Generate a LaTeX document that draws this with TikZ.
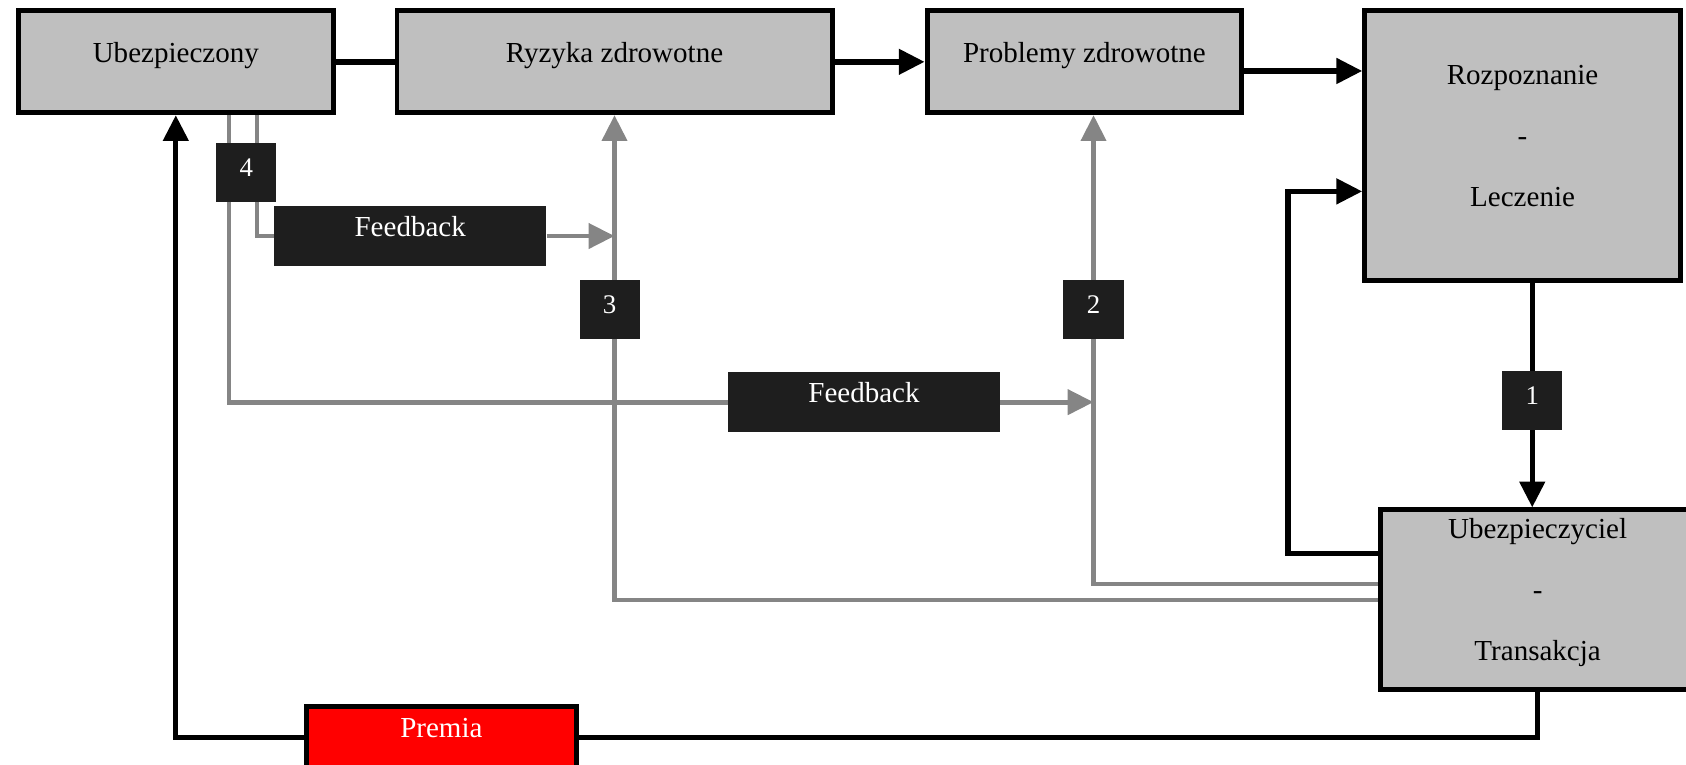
\documentclass[tikz,border=0pt]{standalone}
\usepackage{fontspec}
\setmainfont{Liberation Serif}
\usetikzlibrary{arrows.meta}
\definecolor{boxgray}{HTML}{BFBFBF}
\definecolor{darkbox}{HTML}{1E1E1E}
\definecolor{linegray}{HTML}{858585}
\definecolor{premred}{HTML}{FF0000}
\newcommand{\lowr}[1]{\rule[-#1]{0pt}{#1}}
\pgfdeclarelayer{bg}
\pgfsetlayers{bg,main}
\begin{document}
\begin{tikzpicture}[x=0.5pt,y=-0.5pt,
  every node/.style={font=\fontsize{13.5}{16}\selectfont, inner sep=0pt},
  mainbox/.style={draw=black, line width=2.3pt, fill=boxgray},
  onel/.style={text height=10pt, text depth=9pt},
  multil/.style={align=center, font=\fontsize{13.5}{28.5}\selectfont},
  tagbox/.style={fill=darkbox, text=white, minimum width=28pt, minimum height=27.5pt,
    font=\fontsize{12.5}{15}\selectfont, text height=9pt, text depth=5pt},
  fbk/.style={fill=darkbox, text=white, minimum width=126.5pt, minimum height=28pt,
    text height=10pt, text depth=9.5pt},
  prem/.style={draw=black, line width=2.3pt, fill=premred, text=white,
    minimum width=125.3pt, minimum height=28.8pt, text height=10pt, text depth=10pt},
  blkline/.style={draw=black, line width=2.5pt},
  gryline/.style={draw=linegray, line width=2.2pt},
  tipA/.style={-{Triangle[length=12pt,width=11.5pt]}}
]
\useasboundingbox (0,0) rectangle (1568,711);

% main boxes
\node[mainbox, onel, minimum width=146.3pt, minimum height=47.3pt] (ub) at (163.5,57.5) {Ubezpieczony};
\node[mainbox, onel, minimum width=202.3pt, minimum height=47.3pt] (ry) at (571.5,57.5) {Ryzyka zdrowotne};
\node[mainbox, onel, minimum width=146.3pt, minimum height=47.3pt] (pr) at (1008.5,57.5) {Problemy zdrowotne};
\node[mainbox, multil, minimum width=146.8pt, minimum height=125.3pt] (rl) at (1416,135.5) {Rozpoznanie\\-\\Leczenie\lowr{9pt}};
\node[mainbox, multil, minimum width=145.8pt, minimum height=83.3pt] (ut) at (1430,557.5) {Ubezpieczyciel\\-\\Transakcja\lowr{9.2pt}};

% tags and labels
\node[tagbox] (n4) at (229,160.5) {4};
\node[tagbox] (n3) at (567,287.5) {3};
\node[tagbox] (n2) at (1017,287.5) {2};
\node[tagbox] (n1) at (1425,372.5) {1};
\node[fbk] (fbA) at (381.5,219.5) {Feedback};
\node[fbk] (fbB) at (803.5,374) {Feedback};
\node[prem] (pm) at (410.5,686) {Premia};

% helper coordinates
\coordinate (xa) at (213,0);
\coordinate (xb) at (239,0);
\coordinate (xk) at (1198,0);
\coordinate (ya) at (0,66);
\coordinate (yb) at (0,178);
\coordinate (yc) at (0,515);
\coordinate (yd) at (0,543);
\coordinate (ye) at (0,558);

\begin{pgfonlayer}{bg}
% black connectors
\draw[blkline] (ub.east) -- (ry.west);
\draw[blkline, tipA] (ry.east) -- (pr.west);
\draw[blkline, tipA] (pr.east |- ya) -- (rl.west |- ya);
\draw[blkline, tipA] (ut.west |- yc) -- (xk |- yc) -- (xk |- yb) -- (rl.west |- yb);
\draw[blkline, tipA] (rl.south -| n1) -- (ut.north -| n1);
\draw[blkline] (ut.south) |- (pm.east);
\draw[blkline, tipA] (pm.west) -| (ub.south);
% gray connectors
\draw[gryline] (ub.south -| xa) |- (fbB.west);
\draw[gryline, tipA] (fbB.east) -- (fbB.east -| n2);
\draw[gryline] (ub.south -| xb) |- (fbA.west);
\draw[gryline, tipA] (fbA.east) -- (fbA.east -| ry.south);
\draw[gryline, tipA] (ut.west |- ye) -| (ry.south);
\draw[gryline, tipA] (ut.west |- yd) -| (pr.south -| n2);
\end{pgfonlayer}
\end{tikzpicture}
\end{document}
